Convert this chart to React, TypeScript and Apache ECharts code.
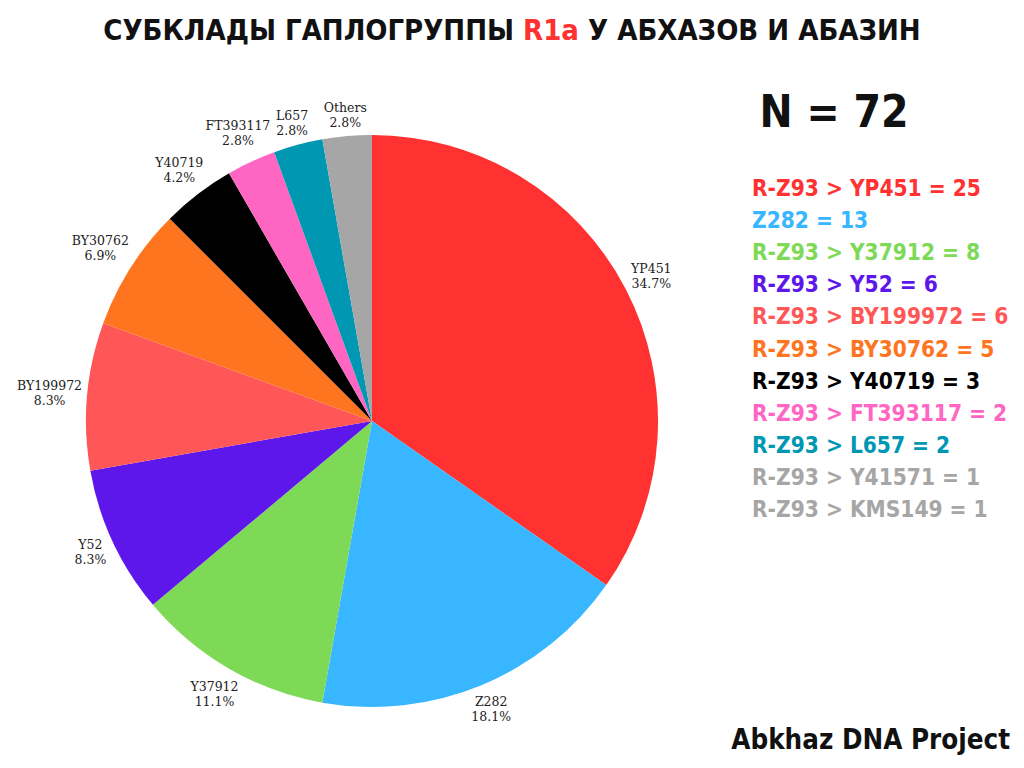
import React, { useEffect, useRef } from "react";
import * as echarts from "echarts";

const sliceNames = ["YP451", "Z282", "Y37912", "Y52", "BY199972", "BY30762", "Y40719", "FT393117", "L657", "Others"];
const sliceValues = [25, 13, 8, 6, 6, 5, 3, 2, 2, 2];
const sliceColors = ["#FF3131", "#38B6FF", "#7ED957", "#5E17EB", "#FF5757", "#FF751F", "#000000", "#FF66C4", "#0097B2", "#A6A6A6"];

const legendLabels = [
  "R-Z93 > YP451",
  "Z282",
  "R-Z93 > Y37912",
  "R-Z93 > Y52",
  "R-Z93 > BY199972",
  "R-Z93 > BY30762",
  "R-Z93 > Y40719",
  "R-Z93 > FT393117",
  "R-Z93 > L657",
  "R-Z93 > Y41571",
  "R-Z93 > KMS149",
];
const legendCounts = [25, 13, 8, 6, 6, 5, 3, 2, 2, 1, 1];
const legendColors = ["#FF3131", "#38B6FF", "#7ED957", "#5E17EB", "#FF5757", "#FF751F", "#000000", "#FF66C4", "#0097B2", "#A6A6A6", "#A6A6A6"];

const sampleSize = 72;
const titleParts = ["СУБКЛАДЫ ГАПЛОГРУППЫ ", "R1a", " У АБХАЗОВ И АБАЗИН"];
const footerText = "Abkhaz DNA Project";

const CX = 372;
const CY = 421;
const R = 286;
const HEAVY = "'DejaVu Sans Condensed', 'DejaVu Sans', sans-serif";

export default function App() {
  const ref = useRef<HTMLDivElement>(null);

  useEffect(() => {
    if (!ref.current) return;
    const chart = echarts.init(ref.current, undefined, { renderer: "svg" });
    const total = sliceValues.reduce((a, b) => a + b, 0);

    const legendGraphics = legendLabels.map((lab, i) => ({
      type: "text",
      x: 752,
      y: 188 + i * 32.1,
      style: {
        text: `${lab} = ${legendCounts[i]}`,
        fill: legendColors[i],
        font: `bold 22.5px ${HEAVY}`,
        align: "left",
        verticalAlign: "middle",
      },
    }));

    chart.setOption({
      animation: false,
      backgroundColor: "#ffffff",
      graphic: [
        {
          type: "text",
          x: 512,
          y: 30,
          style: {
            text: `{a|${titleParts[0]}}{r|${titleParts[1]}}{a|${titleParts[2]}}`,
            align: "center",
            verticalAlign: "middle",
            rich: {
              a: { font: `bold 29px ${HEAVY}`, fill: "#111111" },
              r: { font: `bold 29px ${HEAVY}`, fill: "#FF3131" },
            },
          },
        },
        {
          type: "text",
          x: 834,
          y: 111,
          style: {
            text: `N = ${sampleSize}`,
            fill: "#111111",
            font: `bold 44px ${HEAVY}`,
            align: "center",
            verticalAlign: "middle",
          },
        },
        ...legendGraphics,
        {
          type: "text",
          x: 1010,
          y: 739,
          style: {
            text: footerText,
            fill: "#111111",
            font: `bold 27.5px ${HEAVY}`,
            align: "right",
            verticalAlign: "middle",
          },
        },
      ],
      series: [
        {
          type: "pie",
          center: [CX, CY],
          radius: R,
          startAngle: 90,
          clockwise: true,
          percentPrecision: 1,
          avoidLabelOverlap: false,
          data: sliceNames.map((n, i) => ({
            name: n,
            value: sliceValues[i],
            itemStyle: { color: sliceColors[i] },
          })),
          label: {
            show: true,
            position: "outside",
            formatter: "{b}\n{d}%",
            fontFamily: "'DejaVu Serif', 'Liberation Serif', serif",
            fontSize: 12.5,
            lineHeight: 15,
            color: "#222222",
            align: "center",
          },
          labelLine: { show: false },
          labelLayout: (p: any) => {
            const i = p.dataIndex;
            let before = 0;
            for (let k = 0; k < i; k++) before += sliceValues[k];
            const mid = ((before + sliceValues[i] / 2) / total) * Math.PI * 2;
            const dx = Math.sin(mid);
            const dy = -Math.cos(mid);
            const hw = p.labelRect.width / 2;
            const hh = p.labelRect.height / 2;
            const d = R + 4 + Math.abs(dx) * hw + Math.abs(dy) * hh;
            return { x: CX + dx * d, y: CY + dy * d, align: "center", verticalAlign: "middle" };
          },
          emphasis: { disabled: true },
        },
      ],
    });
    return () => chart.dispose();
  }, []);

  return <div ref={ref} style={{ position: "absolute", left: 0, top: 0, width: 1024, height: 768 }} />;
}
